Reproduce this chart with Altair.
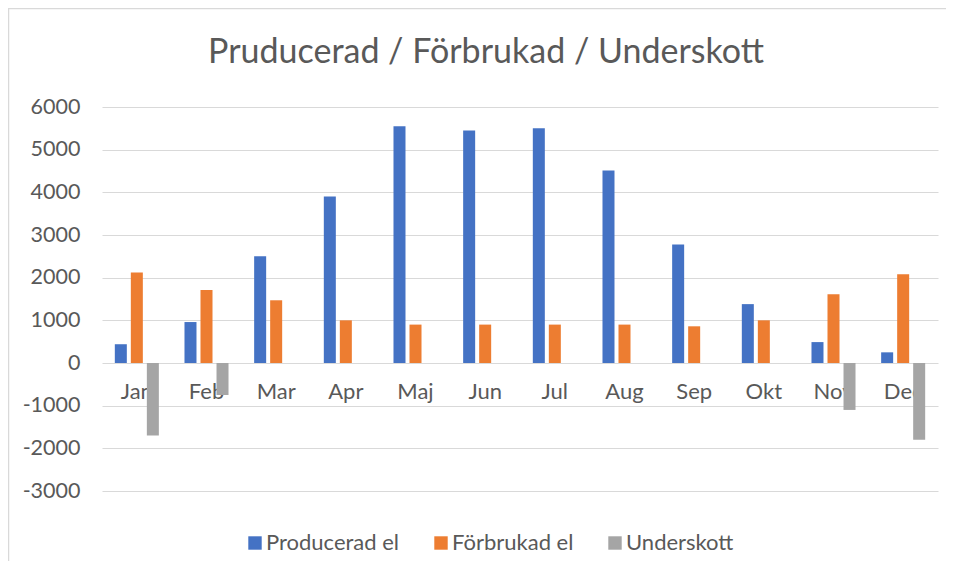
import altair as alt
import pandas as pd

months = ["Jan", "Feb", "Mar", "Apr", "Maj", "Jun", "Jul", "Aug", "Sep", "Okt", "Nov", "Dec"]
series = ["Producerad el", "Förbrukad el", "Underskott"]
producerad = [440, 960, 2500, 3900, 5550, 5450, 5500, 4510, 2780, 1380, 490, 250]
forbrukad = [2120, 1710, 1470, 1000, 900, 900, 900, 900, 860, 1000, 1610, 2080]
underskott = [-1700, -750, None, None, None, None, None, None, None, None, -1100, -1800]
y_ticks = [-3000, -2000, -1000, 0, 1000, 2000, 3000, 4000, 5000, 6000]
colors = ["#4472C4", "#ED7D31", "#A5A5A5"]

rows = []
for name, vals in zip(series, [producerad, forbrukad, underskott]):
    for m, v in zip(months, vals):
        if v is not None:
            rows.append({"Månad": m, "Serie": name, "Värde": v})
df = pd.DataFrame(rows)

FONT = "Lato"
TXT = "#595959"

bars = alt.Chart(df).mark_bar().encode(
    x=alt.X("Månad:N", sort=months,
            scale=alt.Scale(paddingInner=0.368, paddingOuter=0.184),
            axis=alt.Axis(title=None, orient="bottom", offset=-128, domain=False,
                          ticks=False, grid=False, labelAngle=0, labelPadding=18,
                          labelFontSize=22, labelColor=TXT, labelFont=FONT)),
    xOffset=alt.XOffset("Serie:N", sort=series,
                        scale=alt.Scale(paddingInner=0.25, paddingOuter=0)),
    y=alt.Y("Värde:Q",
            scale=alt.Scale(domain=[-3000, 6000], nice=False, zero=True),
            axis=alt.Axis(title=None, values=y_ticks, domain=False, ticks=False,
                          labelExpr="'' + datum.value",
                          labelPadding=22, labelFontSize=21.5, labelColor=TXT,
                          labelFont=FONT, gridColor="#d9d9d9", gridWidth=1)),
    color=alt.Color("Serie:N", sort=series,
                    scale=alt.Scale(domain=series, range=colors),
                    legend=alt.Legend(title=None, orient="none", legendX=142, legendY=425,
                                      direction="horizontal", symbolType="square",
                                      symbolSize=180, symbolStrokeWidth=0,
                                      labelFontSize=22, labelColor=TXT, labelFont=FONT,
                                      columnPadding=30, labelOffset=0)),
)

frame_df = pd.DataFrame({"k": [0]})
frame_top = alt.Chart(frame_df).mark_rule(color="#d9d9d9", strokeWidth=1.5).encode(
    x=alt.value(-94), x2=alt.value(860), y=alt.value(-98.5))
frame_left = alt.Chart(frame_df).mark_rule(color="#d9d9d9", strokeWidth=1.5).encode(
    x=alt.value(-93.5), y=alt.value(-99), y2=alt.value(480))

chart = alt.layer(frame_top, frame_left, bars).properties(
    width=836, height=384,
    title=alt.TitleParams("Pruducerad / Förbrukad / Underskott", fontSize=34, font=FONT,
                          fontWeight="normal", color=TXT, anchor="middle", dx=-34,
                          baseline="alphabetic", dy=94),
    autosize=alt.AutoSizeParams(type="none"),
    padding={"left": 94, "top": 99, "right": 8, "bottom": 70},
).configure_view(stroke=None)

chart.save("out.html", embed_options={"renderer": "svg", "actions": False})
